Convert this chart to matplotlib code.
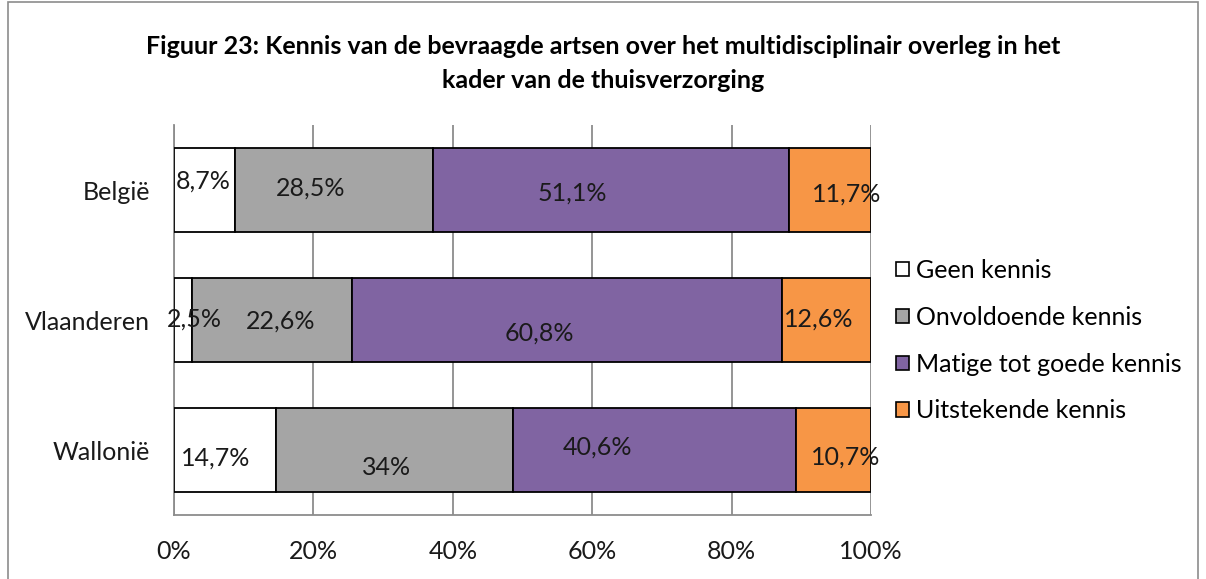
import matplotlib
matplotlib.use("Agg")
import matplotlib.pyplot as plt
from matplotlib.patches import Rectangle
import numpy as np

# data
regions = ["België", "Vlaanderen", "Wallonië"]
categories = ["Geen kennis", "Onvoldoende kennis", "Matige tot goede kennis", "Uitstekende kennis"]
geen = [8.7, 2.5, 14.7]
onvoldoende = [28.5, 22.6, 34.0]
matig = [51.1, 60.8, 40.6]
uitstekend = [11.7, 12.6, 10.7]
label_texts = [["8,7%", "28,5%", "51,1%", "11,7%"],
               ["2,5%", "22,6%", "60,8%", "12,6%"],
               ["14,7%", "34%", "40,6%", "10,7%"]]

colors = ["#FFFFFF", "#A5A5A5", "#8064A2", "#F79646"]
# label offsets from segment centre (pixels, excel-ish placement)
offsets = [[(-1, 9), (-23, 2), (-39, -3), (16, -4)],
           [(12, 1), (9, -1), (-27, -13), (-8, 1)],
           [(-10, -8), (-8, -17), (-57, 3), (12, -7)]]

FS = 18
plt.rcParams['font.family'] = ['Lato', 'DejaVu Sans']

fig = plt.figure(figsize=(12.06, 5.79), dpi=100)
ax = fig.add_axes([174 / 1206, 1 - 515 / 579, 697 / 1206, 390 / 579])

series = np.array([geen, onvoldoende, matig, uitstekend])
shares = series / series.sum(axis=0) * 100
ypos = np.arange(len(regions))
left = np.zeros(len(regions))
for i, cat in enumerate(categories):
    ax.barh(ypos, shares[i], left=left, height=0.65, color=colors[i],
            edgecolor="black", linewidth=1.3, label=cat, zorder=3)
    for j in range(len(regions)):
        ax.annotate(label_texts[j][i], (left[j] + shares[i][j] / 2, ypos[j]),
                    xytext=offsets[j][i], textcoords="offset pixels",
                    ha="center", va="center", fontsize=FS, color="#1a1a1a",
                    zorder=5, annotation_clip=False)
    left += shares[i]

ax.set_xlim(0, 100)
ax.set_ylim(2.5, -0.5)
ax.set_xticks(np.arange(0, 101, 20))
ax.set_xticklabels([f"{t}%" for t in range(0, 101, 20)])
ax.set_yticks(ypos)
ax.set_yticklabels(regions)
ax.tick_params(length=0, labelsize=FS, colors="#1a1a1a")
ax.tick_params(axis="x", pad=18)
ax.tick_params(axis="y", pad=17)
ax.grid(axis="x", color="#8c8c8c", linewidth=1.3, zorder=0)
for s in ["top", "right"]:
    ax.spines[s].set_visible(False)
for s in ["left", "bottom"]:
    ax.spines[s].set_color("#8c8c8c")
    ax.spines[s].set_linewidth(1.3)

fig.text(603 / 1206, 1 - 47 / 579,
         "Figuur 23: Kennis van de bevraagde artsen over het multidisciplinair overleg in het",
         ha="center", va="center", fontsize=18, fontweight="bold")
fig.text(603 / 1206, 1 - 80 / 579, "kader van de thuisverzorging",
         ha="center", va="center", fontsize=18, fontweight="bold")

leg = fig.legend(loc="upper left", bbox_to_anchor=(886 / 1206, 1 - 249 / 579),
                 frameon=False, fontsize=FS, handlelength=0.5, handleheight=0.5,
                 handletextpad=0.3, labelspacing=0.95, borderaxespad=0)
for h in leg.legend_handles:
    h.set_linewidth(1.2)

fig.patches.append(Rectangle((8 / 1206, -0.1), 1190 / 1206, 1.1 - 2 / 579,
                             transform=fig.transFigure, fill=False,
                             edgecolor="#8c8c8c", linewidth=1.2))

fig.savefig("out.png", dpi=100)
